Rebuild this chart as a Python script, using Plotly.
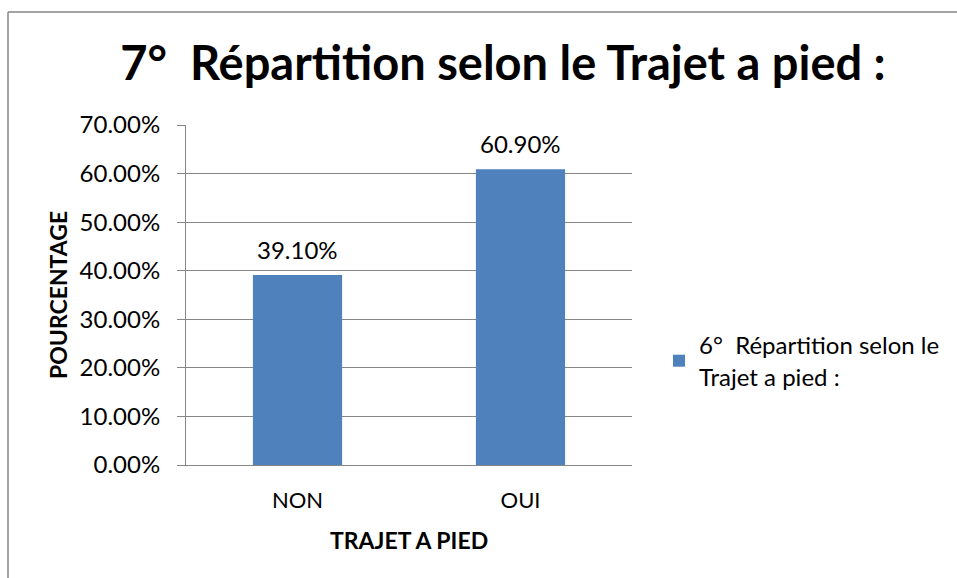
import plotly.graph_objects as go

categories = ["NON", "OUI"]
values = [0.391, 0.609]
series_name = "6°  Répartition selon le<br>Trajet a pied :"
title_text = "7°  Répartition selon le Trajet a pied :"
y_title = "POURCENTAGE"
x_title = "TRAJET A PIED"

FONT = "Lato"
W, H = 957, 578
L, R, T, B = 186, 632, 125, 465
pw, ph = R - L, B - T

def px(x):
    return (x - L) / pw

def py(y):
    return (B - y) / ph

fig = go.Figure()
fig.add_trace(go.Bar(
    x=categories, y=values, name=series_name,
    marker=dict(color="#4F81BD", line=dict(width=0)),
))

for c, v in zip(categories, values):
    fig.add_annotation(x=c, y=v, xref="x", yref="y", text=f"{v*100:.2f}%",
                       showarrow=False, yanchor="bottom", yshift=9,
                       font=dict(family=FONT, size=24, color="black"))

fig.add_annotation(x=px(58), y=0.5, xref="paper", yref="paper", text=f"<b>{y_title}</b>",
                   textangle=-90, showarrow=False, xanchor="center", yanchor="middle",
                   font=dict(family=FONT, size=23, color="black"))
fig.add_annotation(x=0.5, y=py(540), xref="paper", yref="paper", text=f"<b>{x_title}</b>",
                   showarrow=False, xanchor="center", yanchor="middle",
                   font=dict(family=FONT, size=23, color="black"))

# chart-area border: top and left edges (right/bottom lie outside the picture)
fig.add_shape(type="line", xref="paper", yref="paper",
              x0=px(8), x1=px(W), y0=py(12), y1=py(12),
              line=dict(color="#868686", width=1.5), layer="below")
fig.add_shape(type="line", xref="paper", yref="paper",
              x0=px(8), x1=px(8), y0=py(12), y1=py(H),
              line=dict(color="#868686", width=1.5), layer="below")

fig.update_layout(
    width=W, height=H,
    margin=dict(l=L, r=W - R, t=T, b=H - B, autoexpand=False),
    paper_bgcolor="white", plot_bgcolor="white",
    font=dict(family=FONT, color="black"),
    title=dict(text=f"<b>{title_text}</b>", x=503 / W, y=1 - 64 / H, xref="container", yref="container",
               xanchor="center", yanchor="middle", font=dict(family=FONT, size=47, color="black")),
    bargap=0.6,
    showlegend=True,
    legend=dict(x=px(659), y=py(361), xanchor="left", yanchor="middle",
                font=dict(family=FONT, size=24, color="black"),
                itemwidth=30, bgcolor="rgba(0,0,0,0)"),
    yaxis=dict(range=[0, 0.7], dtick=0.1, tickformat=".2%", showgrid=True,
               gridcolor="#868686", gridwidth=1, showline=True, linecolor="#868686", linewidth=1,
               ticks="outside", ticklen=8, tickcolor="#868686", zeroline=False,
               tickfont=dict(family=FONT, size=24, color="black"), ticklabelstandoff=12),
    xaxis=dict(showline=True, linecolor="#868686", linewidth=1, ticks="", showgrid=False,
               tickfont=dict(family=FONT, size=22, color="black"), ticklabelstandoff=16),
)

fig.write_html("out.html", config={"displayModeBar": False},
               post_script="document.documentElement.style.margin='0';document.body.style.margin='0';document.documentElement.style.overflow='hidden';document.body.style.overflow='hidden';")
